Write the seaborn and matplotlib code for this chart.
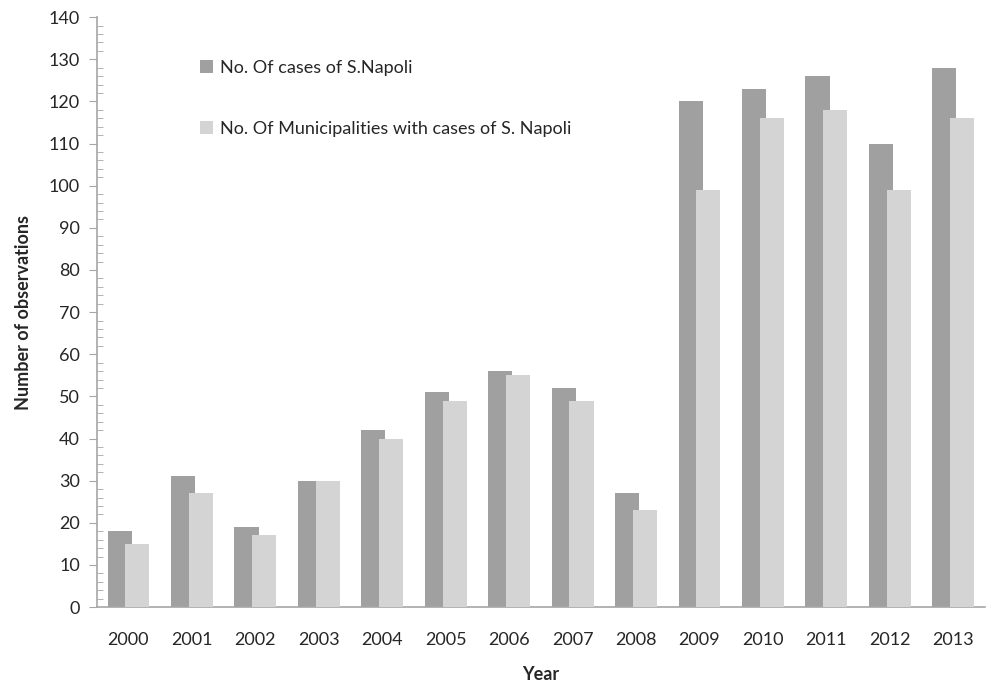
import pandas as pd
import matplotlib.pyplot as plt
import seaborn as sns
from matplotlib.ticker import MultipleLocator

# Data
years = ['2000', '2001', '2002', '2003', '2004', '2005', '2006',
         '2007', '2008', '2009', '2010', '2011', '2012', '2013']
cases = [18, 31, 19, 30, 42, 51, 56, 52, 27, 120, 123, 126, 110, 128]
municipalities = [15, 27, 17, 30, 40, 49, 55, 49, 23, 99, 116, 118, 99, 116]

lab_cases = 'No. Of cases of S.Napoli'
lab_mun = 'No. Of Municipalities with cases of S. Napoli'

df = pd.DataFrame({'Year': years * 2,
                   'value': cases + municipalities,
                   'series': [lab_cases] * len(years) + [lab_mun] * len(years)})

sns.set_style('white')
plt.rcParams['font.family'] = ['Lato', 'DejaVu Sans']

fig = plt.figure(figsize=(9.87, 6.86), dpi=100)
ax = fig.add_axes([0.098, 0.115, 0.9, 0.86])

ax = sns.barplot(data=df, x='Year', y='value', hue='series',
                 palette=['#a0a0a0', '#d4d4d4'], width=0.56,
                 saturation=1, ax=ax, legend=True)

# widen bars a bit so they overlap like the original
for p in ax.patches:
    if p.get_height() == 0 and p.get_width() == 0:
        continue
    w = p.get_width()
    p.set_x(p.get_x() - 0.05)
    p.set_width(w + 0.1)
    p.set_linewidth(0)
for p in ax.containers[1]:
    p.set_zorder(3)
for p in ax.containers[0]:
    p.set_zorder(2)

ax.set_xlim(-0.5, 13.5)
ax.set_ylim(0, 140)
ax.yaxis.set_major_locator(MultipleLocator(10))
ax.yaxis.set_minor_locator(MultipleLocator(2))

for s in ['top', 'right']:
    ax.spines[s].set_visible(False)
for s in ['left', 'bottom']:
    ax.spines[s].set_color('#a6a6a6')
    ax.spines[s].set_linewidth(1.2)

ax.tick_params(axis='y', which='major', direction='out', length=6,
               color='#a6a6a6', labelsize=13, left=True, pad=6)
ax.tick_params(axis='y', which='minor', direction='in', length=4,
               color='#a6a6a6', left=True)
ax.tick_params(axis='x', length=0, labelsize=13, pad=18)

ax.set_xlabel('Year', fontsize=13, fontweight='bold', labelpad=13)
ax.set_ylabel('Number of observations', fontsize=13, fontweight='bold', labelpad=12)

leg = ax.legend(loc='upper left', bbox_to_anchor=(0.098, 0.955), frameon=False,
                fontsize=13, labelspacing=2.5, handlelength=0.7,
                handleheight=0.7, handletextpad=0.4)
for h in leg.legend_handles:
    h.set_linewidth(0)

plt.savefig('out.png', dpi=100)
